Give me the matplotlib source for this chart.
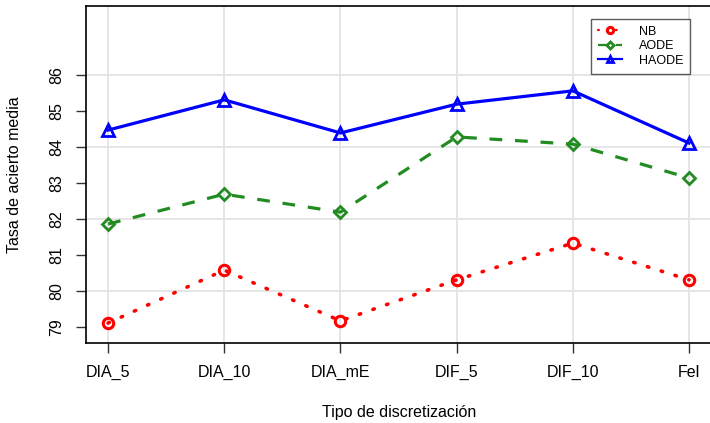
import matplotlib
matplotlib.use("Agg")
import matplotlib.pyplot as plt
import numpy as np

plt.rcParams['font.family'] = ['Liberation Sans', 'DejaVu Sans']

categories = ["DIA_5", "DIA_10", "DIA_mE", "DIF_5", "DIF_10", "Fel"]
nb = [79.11, 80.58, 79.17, 80.31, 81.33, 80.31]
aode = [81.86, 82.69, 82.19, 84.28, 84.08, 83.14]
haode = [84.47, 85.31, 84.39, 85.19, 85.56, 84.11]
yticks = [79, 80, 81, 82, 83, 84, 85, 86]
ygrid = [80, 82, 84, 86]

W, H = 710, 423
fig = plt.figure(figsize=(W / 100, H / 100), dpi=100)
left, right, top, bottom = 86, 712, 6, 343
ax = fig.add_axes([left / W, 1 - bottom / H, (right - left) / W, (bottom - top) / H])

x = np.arange(len(categories))
for v in ygrid:
    ax.axhline(v, color='#e3e3e3', lw=1.3, zorder=0)
for xi in x:
    ax.axvline(xi, color='#e3e3e3', lw=1.3, zorder=0)

ax.plot(x, nb, color='red', ls=(0, (0.4, 3.6)), lw=2.6, dash_capstyle='round',
        marker='o', ms=7.5, mfc='none', mec='red', mew=2.2, label='NB')
ax.plot(x, aode, color='#228B22', ls=(0, (4, 4)), lw=2.3,
        marker='D', ms=6, mfc='none', mec='#228B22', mew=2.0, label='AODE')
ax.plot(x, haode, color='blue', ls='-', lw=2.3,
        marker='^', ms=8, mfc='none', mec='blue', mew=2.0, label='HAODE')

ax.set_xlim(-0.19, 5 + (right - 689) / 116.2)
ax.set_ylim(79 - (343 - 327) / 36.0, 86 + (75 - 6) / 36.0)
ax.set_xticks(x)
ax.set_xticklabels(categories, fontsize=11.5)
ax.set_yticks(yticks)
ax.set_yticklabels([str(t) for t in yticks], fontsize=11.5, rotation=90, va='center')
ax.tick_params(axis='both', direction='out', length=7, width=1, color='#333333', pad=4)
ax.tick_params(axis='x', pad=9)
ax.tick_params(axis='y', pad=9)
for s in ax.spines.values():
    s.set_linewidth(1.2)

ax.set_xlabel('Tipo de discretización', fontsize=11.5, labelpad=18)
ax.set_ylabel('Tasa de acierto media', fontsize=11.5, labelpad=19)

leg = ax.legend(loc='upper left', bbox_to_anchor=((591 - left) / (right - left), 1 - (19 - top) / (bottom - top)),
                fontsize=9, frameon=True, fancybox=False, edgecolor='#333333',
                handlelength=1.9, markerscale=0.6, borderpad=0.55, labelspacing=0.2,
                handletextpad=1.4, borderaxespad=0)
leg.get_frame().set_linewidth(1.0)
for line in leg.get_lines():
    line.set_linewidth(1.6)

fig.savefig('out.png', dpi=100)
